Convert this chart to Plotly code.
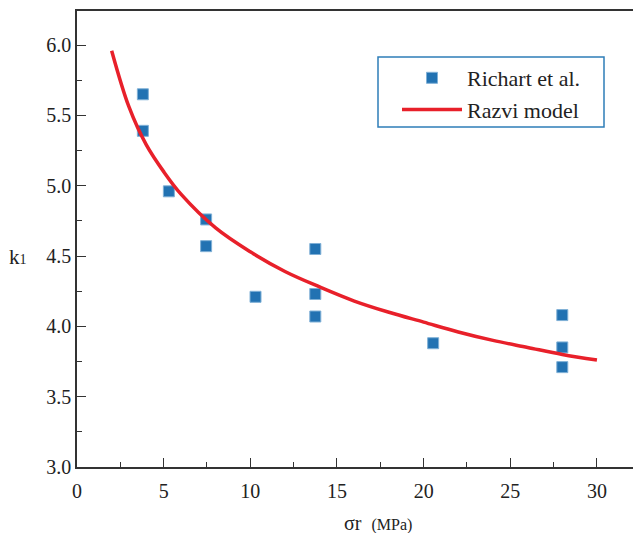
import plotly.graph_objects as go

# Experimental data (Richart et al.)
exp_sigma = [3.8, 3.8, 5.3, 7.45, 7.45, 10.3, 13.75, 13.75, 13.75, 20.55, 28.0, 28.0, 28.0]
exp_k1 = [5.65, 5.39, 4.96, 4.76, 4.57, 4.21, 4.55, 4.23, 4.07, 3.88, 4.08, 3.85, 3.71]

# Razvi model curve
model_sigma = [2, 3, 4, 5, 6, 8, 10, 12, 14, 16, 18, 20, 22, 24, 26, 28, 30]
model_k1 = [5.96, 5.56, 5.29, 5.10, 4.94, 4.70, 4.53, 4.39, 4.28, 4.18, 4.10, 4.03, 3.96, 3.90, 3.85, 3.80, 3.76]

x_ticks = [0, 5, 10, 15, 20, 25, 30]
y_ticks = [3.0, 3.5, 4.0, 4.5, 5.0, 5.5, 6.0]

FONT = "Liberation Serif, Times New Roman, serif"
W, H = 633, 533
L, R, T, B = 77, 0, 11, 66
pw, ph = W - L - R, H - T - B

def px(xp):
    return (xp - L) / pw

def py(yp):
    return (H - B - yp) / ph

fig = go.Figure()
fig.add_trace(go.Scatter(
    x=exp_sigma, y=exp_k1, mode="markers", name="Richart et al.",
    marker=dict(symbol="square", size=11, color="#2272b2",
                line=dict(width=1, color="#7fb0d6")),
))
fig.add_trace(go.Scatter(
    x=model_sigma, y=model_k1, mode="lines", name="Razvi model",
    line=dict(color="#e8202a", width=3.5, shape="spline"),
))

axis_common = dict(
    showline=True, linecolor="#333333", linewidth=1.5,
    ticks="inside", ticklen=9, tickwidth=1.3, tickcolor="#333333",
    showgrid=False, zeroline=False,
    tickfont=dict(family=FONT, size=20, color="#222222"),
)

fig.update_xaxes(
    range=[0, 32.08], tickvals=x_ticks, ticktext=[str(v) for v in x_ticks],
    mirror=True, ticklabelstandoff=5,
    minor=dict(ticks="inside", ticklen=5, tickwidth=1.2, tickcolor="#333333", dtick=2.5),
    **axis_common,
)
fig.update_yaxes(
    range=[3.0, 6.242], tickvals=y_ticks, ticktext=[f"{v:.1f}" for v in y_ticks],
    minor=dict(ticks="inside", ticklen=5, tickwidth=1.2, tickcolor="#333333", dtick=0.25),
    **axis_common,
)

fig.add_annotation(
    text="k<span style='font-size:14px'>1</span>", xref="paper", yref="paper", x=px(18), y=py(257),
    xanchor="center", yanchor="middle", showarrow=False,
    font=dict(family=FONT, size=21, color="#222222"),
)
fig.add_annotation(
    text="σr\u00a0\u00a0<span style='font-size:16px'>(MPa)</span>", xref="paper", yref="paper",
    x=px(342), y=py(523), xanchor="left", yanchor="middle", showarrow=False,
    font=dict(family=FONT, size=20, color="#222222"),
)

# legend frame
fig.add_shape(type="rect", xref="paper", yref="paper",
              x0=px(378), x1=px(604), y0=py(127), y1=py(57),
              line=dict(color="#2e7db8", width=1.5), fillcolor="rgba(0,0,0,0)")

fig.update_layout(
    width=W, height=H,
    margin=dict(l=L, r=R, t=T, b=B),
    paper_bgcolor="white", plot_bgcolor="white",
    font=dict(family=FONT, color="#222222"),
    showlegend=True,
    legend=dict(x=px(397), y=py(57), xanchor="left", yanchor="top",
                bgcolor="rgba(0,0,0,0)", borderwidth=0, itemwidth=60,
                tracegroupgap=0,
                font=dict(family=FONT, size=22, color="#222222")),
)

fig.write_html("out.html")
